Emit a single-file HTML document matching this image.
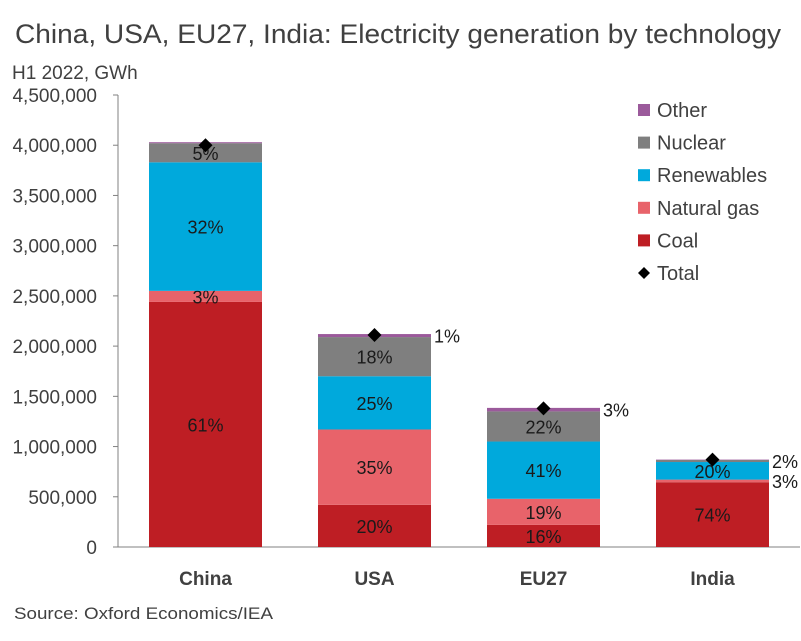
<!DOCTYPE html>
<html><head><meta charset="utf-8"><style>
body{margin:0;background:#fff;font-family:"Liberation Sans",sans-serif;}
</style></head><body>
<svg width="801" height="636" xmlns="http://www.w3.org/2000/svg" font-family="Liberation Sans, sans-serif">
<text x="15" y="43" font-size="27" fill="#404040" textLength="766" lengthAdjust="spacingAndGlyphs">China, USA, EU27, India: Electricity generation by technology</text>
<text x="12" y="79" font-size="19" fill="#404040">H1 2022, GWh</text>
<text x="14" y="619" font-size="17" fill="#404040" textLength="259" lengthAdjust="spacingAndGlyphs">Source: Oxford Economics/IEA</text>
<g id="plot"></g>
</svg>
<script>
const categories=["China","USA","EU27","India"];
const seriesNames=["Coal","Natural gas","Renewables","Nuclear","Other"];
const coal=[2440000,420000,220000,645000];
const gas=[110000,750000,260000,26000];
const renewables=[1280000,530000,570000,175000];
const nuclear=[190000,390000,300000,20000];
const other=[10000,30000,35000,4000];
const totals=[4000000,2110000,1380000,870000];
const yTicks=[0,500000,1000000,1500000,2000000,2500000,3000000,3500000,4000000,4500000];
const colors=["#BE1E24","#E8636A","#00A9DC","#7F7F7F","#9B5A9B"];
const series=[coal,gas,renewables,nuclear,other];
const NS="http://www.w3.org/2000/svg";
const g=document.getElementById('plot');
const y0=547,yTop=95,yMax=4500000,xLeft=118,band=169,barW=113;
function y(v){return y0-(v/yMax)*(y0-yTop);}
function xc(i){return xLeft+band/2+band*i+3;}
function mk(t,a){const e=document.createElementNS(NS,t);for(const k in a)e.setAttribute(k,a[k]);g.appendChild(e);return e;}
let ax=mk('line',{x1:xLeft,y1:yTop,x2:xLeft,y2:y0,stroke:'#808080','stroke-width':1});


let bx=mk('line',{x1:xLeft,y1:y0,x2:xLeft+band*4+6,y2:y0,stroke:'#808080','stroke-width':1});


yTicks.forEach(t=>{
  const yy=y(t);
  const tk=mk('line',{x1:xLeft-5,y1:yy,x2:xLeft,y2:yy,stroke:'#808080'});
  
  
  const tx=mk('text',{x:xLeft-21,y:yy+7,'text-anchor':'end','font-size':19,fill:'#404040'});
  tx.textContent=t.toLocaleString('en-US');
  
  
});
categories.forEach((c,i)=>{
  const cx=xc(i);
  const sum=series.reduce((s,a)=>s+a[i],0);
  let acc=0;
  series.forEach((arr,k)=>{
    const v=arr[i];
    const yt=y(acc+v),yb=y(acc);
    const r=mk('rect',{x:cx-barW/2,y:yt,width:barW,height:Math.max(0,yb-yt),fill:colors[k]});
    
    
    const pct=Math.round(v/sum*100);
    if(pct>0){
      const h=yb-yt;
      const outside=h<8;
      const t=mk('text',{x:outside?cx+barW/2+3:cx,y:(yt+yb)/2+7,'text-anchor':outside?'start':'middle','font-size':18,fill:'#1a1a1a'});
      t.textContent=pct+'%';
      
      
    }
    acc+=v;
  });
  const ty=y(totals[i]);
  const d=mk('polygon',{points:`${cx},${ty-7} ${cx+7},${ty} ${cx},${ty+7} ${cx-7},${ty}`,fill:'#000'});
  
  
  const cl=mk('text',{x:cx,y:585,'text-anchor':'middle','font-size':19,'font-weight':'bold',fill:'#404040'});
  cl.textContent=c;
  
  
});
const legItems=["Other","Nuclear","Renewables","Natural gas","Coal"];
const legCols=["#9B5A9B","#7F7F7F","#00A9DC","#E8636A","#BE1E24"];
legItems.forEach((n,j)=>{
  const ly=110+j*32.6;
  const r=mk('rect',{x:638,y:ly-6,width:12,height:12,fill:legCols[j]});
  
  
  const t=mk('text',{x:657,y:ly+7,'font-size':20,fill:'#404040'});
  t.textContent=n;
  
  
});
const ly=273;
const dm=mk('polygon',{points:`644,${ly-6} 650,${ly} 644,${ly+6} 638,${ly}`,fill:'#000'});


const tt=mk('text',{x:657,y:ly+7,'font-size':20,fill:'#404040'});
tt.textContent='Total';


</script>
</body></html>
